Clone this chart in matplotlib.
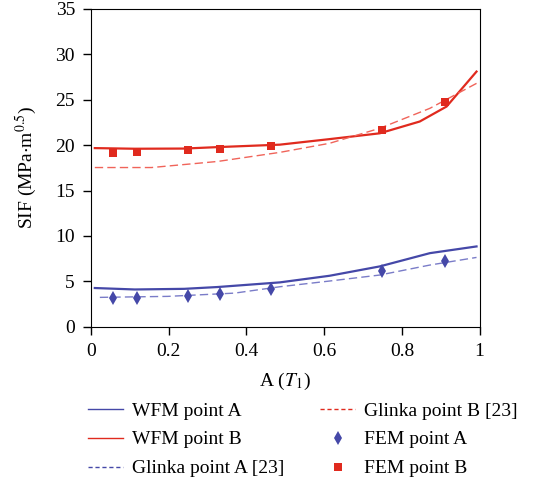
import matplotlib
matplotlib.use("Agg")
import matplotlib.pyplot as plt
from matplotlib.lines import Line2D

plt.rcParams['font.family'] = ['Liberation Serif', 'DejaVu Serif']
plt.rcParams['mathtext.fontset'] = 'stix'

# WFM curves
wfm_bx = [0.01, 0.113, 0.24, 0.326, 0.486, 0.614, 0.743, 0.846, 0.915, 0.992]
wfm_b = [19.67, 19.6, 19.62, 19.78, 20.05, 20.66, 21.3, 22.6, 24.25, 28.1]
wfm_ax = [0.01, 0.113, 0.24, 0.326, 0.486, 0.614, 0.743, 0.872, 0.992]
wfm_a = [4.26, 4.1, 4.17, 4.37, 4.88, 5.61, 6.64, 8.1, 8.84]

# Glinka curves
gl_bx = [0.01, 0.156, 0.326, 0.486, 0.614, 0.743, 0.872, 0.992]
gl_b = [17.53, 17.53, 18.2, 19.2, 20.2, 21.85, 24.05, 26.8]
gl_ax = [0.023, 0.198, 0.37, 0.486, 0.614, 0.743, 0.872, 0.992]
gl_a = [3.23, 3.34, 3.7, 4.4, 5.03, 5.69, 6.79, 7.63]

# FEM points
fem_x = [0.057, 0.119, 0.249, 0.333, 0.462, 0.75, 0.91]
fem_a = [3.16, 3.16, 3.41, 3.63, 4.18, 6.09, 7.19]
fem_b = [19.18, 19.29, 19.51, 19.62, 19.95, 21.68, 24.8]

blue = '#4548a8'
red = '#e02a1e'

fig = plt.figure(figsize=(5.38, 4.82), dpi=100)
ax = fig.add_axes([0.169, 0.3222, 0.7225, 0.6593])

ax.plot(wfm_ax, wfm_a, color=blue, lw=1.6)
ax.plot(wfm_bx, wfm_b, color=red, lw=1.6)
ax.plot(gl_ax, gl_a, color='#7a7cc8', lw=1.0, ls=(0, (6, 3)))
ax.plot(gl_bx, gl_b, color='#f0645a', lw=1.0, ls=(0, (6, 3)))
ax.plot(fem_x, fem_a, ls='none', marker='d', ms=7, mew=0, color=blue)
ax.plot(fem_x, fem_b, ls='none', marker='s', ms=5.8, mew=0, color=red)

ax.set_xlim(0, 1)
ax.set_ylim(0, 35)
ax.set_xticks([0, 0.2, 0.4, 0.6, 0.8, 1])
ax.set_xticklabels(['0', '0.2', '0.4', '0.6', '0.8', '1'])
ax.set_yticks(range(0, 36, 5))
ax.tick_params(labelsize=14, direction='out', length=5.5, width=1, pad=6)
ax.set_xlabel('A ($T_1$)', fontsize=14, labelpad=8)
ax.set_ylabel('SIF (MPa$\\cdot$m$^{0.5}$)', fontsize=14, labelpad=12)

col1 = [Line2D([], [], color=blue, lw=1.0),
        Line2D([], [], color=red, lw=1.0),
        Line2D([], [], color=blue, lw=1.0, ls=(0, (3, 2)))]
col2 = [Line2D([], [], color=red, lw=1.0, ls=(0, (3, 2))),
        Line2D([], [], ls='none', marker='d', ms=7, mew=0, color=blue),
        Line2D([], [], ls='none', marker='s', ms=5.8, mew=0, color=red)]
lab1 = ['WFM point A', 'WFM point B', 'Glinka point A [23]']
lab2 = ['Glinka point B [23]', 'FEM point A', 'FEM point B']

kw = dict(loc='upper left', frameon=False, fontsize=14, handlelength=1.8,
          handletextpad=0.45, labelspacing=0.58, borderpad=0, borderaxespad=0)
leg1 = fig.legend(col1, lab1, bbox_to_anchor=(88 / 538, 1 - 402 / 482), **kw)
leg2 = fig.legend(col2, lab2, bbox_to_anchor=(320 / 538, 1 - 402 / 482), **kw)

fig.savefig('out.png', dpi=100)
